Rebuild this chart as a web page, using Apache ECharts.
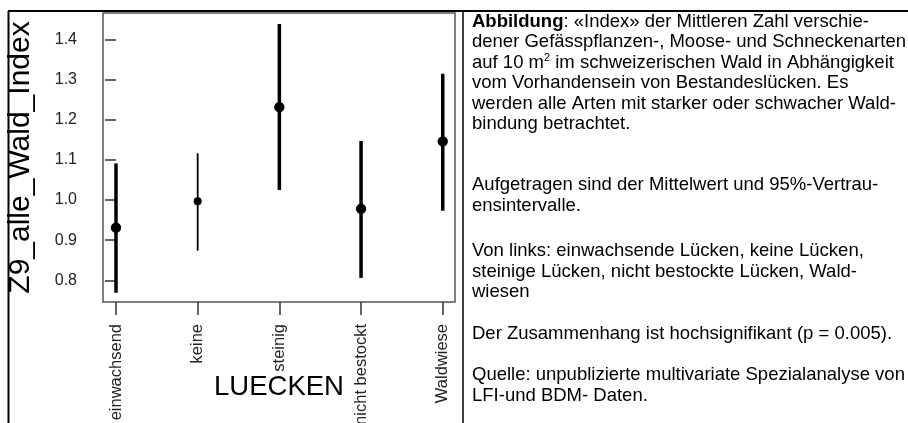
<!DOCTYPE html>
<html>
<head>
<meta charset="utf-8">
<script src="https://cdn.jsdelivr.net/npm/echarts@6/dist/echarts.min.js"></script>
<style>
  html, body { margin: 0; padding: 0; background: #fff; }
  #chart { width: 908px; height: 423px; }
</style>
</head>
<body>
<div id="chart"></div>
<script>
// Gap types (LUECKEN) and the index: mean with 95% confidence interval
const categories = ['einwachsend', 'keine', 'steinig', 'nicht bestockt', 'Waldwiese'];
const means = [0.931, 0.997, 1.231, 0.978, 1.146];
const lower = [0.769, 0.874, 1.025, 0.806, 0.973];
const upper = [1.091, 1.116, 1.438, 1.147, 1.314];
const yTicks = [0.8, 0.9, 1.0, 1.1, 1.2, 1.3, 1.4];
const xTicks = [0, 1, 2, 3, 4];

const FONT = "'Liberation Sans', Arial, sans-serif";

const data = categories.map((c, i) => [i, means[i], lower[i], upper[i]]);

// Caption lines on the right-hand side
const captionLines = [
  '{b|Abbildung}: «Index» der Mittleren Zahl verschie-',
  'dener Gefässpflanzen-, Moose- und Schneckenarten',
  'auf 10 m{sup|2} im schweizerischen Wald in Abhängigkeit',
  'vom Vorhandensein von Bestandeslücken. Es',
  'werden alle Arten mit starker oder schwacher Wald-',
  'bindung betrachtet.',
  'Aufgetragen sind der Mittelwert und 95%-Vertrau-',
  'ensintervalle.',
  'Von links: einwachsende Lücken, keine Lücken,',
  'steinige Lücken, nicht bestockte Lücken, Wald-',
  'wiesen',
  'Der Zusammenhang ist hochsignifikant (p = 0.005).',
  'Quelle: unpublizierte multivariate Spezialanalyse von',
  'LFI-und BDM- Daten.'
];
const captionY = [21.5, 42, 62.5, 83, 103.5, 124, 185, 205.5, 251, 271.5, 292, 334, 375, 395.5];
const CAPTION_SIZE = 18.5;

const chart = echarts.init(document.getElementById('chart'), null, { renderer: 'canvas' });

const graphics = [
  // table frame: top rule, left rule, column divider
  { type: 'line', shape: { x1: 8, y1: 11, x2: 908, y2: 11 }, style: { stroke: '#000', lineWidth: 2 }, z: 10 },
  { type: 'line', shape: { x1: 8.5, y1: 11, x2: 8.5, y2: 423 }, style: { stroke: '#000', lineWidth: 2 }, z: 10 },
  { type: 'line', shape: { x1: 463, y1: 11, x2: 463, y2: 423 }, style: { stroke: '#000', lineWidth: 1.5 }, z: 10 }
];
captionLines.forEach((t, i) => {
  graphics.push({
    type: 'text',
    x: 472,
    y: captionY[i],
    z: 10,
    style: {
      text: t,
      font: CAPTION_SIZE + 'px ' + FONT,
      fill: '#000',
      verticalAlign: 'middle',
      rich: {
        b: { fontWeight: 'bold', fontSize: CAPTION_SIZE, fontFamily: FONT, fill: '#000' },
        sup: { fontSize: 11, fontFamily: FONT, fill: '#000', verticalAlign: 'top', padding: [0, 0, 9, 0] }
      }
    }
  });
});

chart.setOption({
  animation: false,
  backgroundColor: '#fff',
  textStyle: { fontFamily: FONT },
  grid: {
    left: 103, right: 453, top: 13, bottom: 121,
    outerBoundsMode: 'none',
    containLabel: false,
    show: true, borderColor: '#555', borderWidth: 1.5, backgroundColor: 'transparent'
  },
  xAxis: {
    type: 'value',
    min: -0.159,
    max: 4.15,
    splitLine: { show: false },
    axisLine: { show: false },
    axisTick: { show: true, customValues: xTicks, length: 13, lineStyle: { color: '#333', width: 1.5 } },
    axisLabel: {
      customValues: xTicks,
      formatter: v => categories[v],
      rotate: 90,
      margin: 22,
      fontSize: 16.5,
      fontFamily: FONT,
      color: '#222'
    },
    name: 'LUECKEN',
    nameLocation: 'middle',
    nameGap: 85,
    nameMoveOverlap: false,
    nameTextStyle: { fontSize: 27.5, fontFamily: FONT, color: '#000', verticalAlign: 'middle' }
  },
  yAxis: {
    type: 'value',
    min: 0.746,
    max: 1.4655,
    splitLine: { show: false },
    axisLine: { show: false },
    axisTick: { show: true, customValues: yTicks, length: 11, lineStyle: { color: '#333', width: 1.5 } },
    axisLabel: {
      customValues: yTicks,
      formatter: v => v.toFixed(1),
      margin: 26,
      fontSize: 16,
      fontFamily: FONT,
      color: '#222'
    },
    name: 'Z9_alle_Wald_Index',
    nameLocation: 'middle',
    nameGap: 82,
    nameRotate: 90,
    nameMoveOverlap: false,
    nameTextStyle: { fontSize: 30, fontFamily: FONT, color: '#000', verticalAlign: 'middle' }
  },
  graphic: graphics,
  series: [{
    type: 'custom',
    clip: false,
    data: data,
    renderItem: (params, api) => {
      const x = api.value(0);
      const pM = api.coord([x, api.value(1)]);
      const pLo = api.coord([x, api.value(2)]);
      const pHi = api.coord([x, api.value(3)]);
      // the "keine" interval is drawn with a thinner stroke
      const thin = categories[x] === 'keine';
      return {
        type: 'group',
        children: [
          { type: 'line', shape: { x1: pLo[0], y1: pLo[1], x2: pHi[0], y2: pHi[1] },
            style: { stroke: '#000', lineWidth: thin ? 1.8 : 3.5 } },
          { type: 'circle', shape: { cx: pM[0], cy: pM[1], r: thin ? 4 : 5.2 },
            style: { fill: '#000' } }
        ]
      };
    }
  }]
});
</script>
</body>
</html>
